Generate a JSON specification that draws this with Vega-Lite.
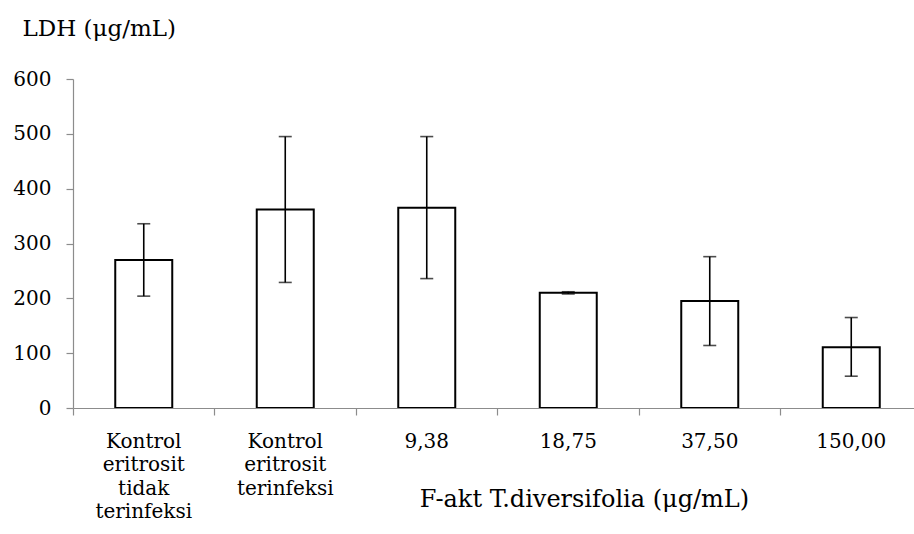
{
  "$schema": "https://vega.github.io/schema/vega-lite/v6.json",
  "autosize": {"type": "none"},
  "padding": {"left": 73, "top": 79, "right": 0, "bottom": 126},
  "width": 849,
  "height": 329,
  "background": "white",
  "config": {
    "view": {"stroke": null},
    "font": "DejaVu Serif",
    "axis": {"labelFont": "DejaVu Serif", "titleFont": "DejaVu Serif", "labelColor": "black", "titleColor": "black", "titleFontWeight": "normal", "domainColor": "#8c8c8c", "tickColor": "#8c8c8c", "domainWidth": 1.2, "tickWidth": 1.2, "grid": false}
  },
  "data": {"values": [
    {"cat": "Kontrol|eritrosit|tidak|terinfeksi", "mean": 270, "low": 204, "high": 336},
    {"cat": "Kontrol|eritrosit|terinfeksi", "mean": 362, "low": 229, "high": 495},
    {"cat": "9,38", "mean": 365, "low": 236, "high": 495},
    {"cat": "18,75", "mean": 210, "low": 208, "high": 212},
    {"cat": "37,50", "mean": 195, "low": 114, "high": 276},
    {"cat": "150,00", "mean": 111, "low": 58, "high": 165}
  ]},
  "encoding": {
    "x": {
      "field": "cat", "type": "nominal", "sort": null,
      "scale": {"paddingInner": 0, "paddingOuter": 0},
      "axis": {
        "labelAngle": 0, "labelExpr": "split(datum.label, '|')", "labelLineHeight": 23.5,
        "labelFontSize": 20, "labelPadding": 16, "tickSize": 7, "bandPosition": 0, "zindex": 1,
        "title": "F-akt  T.diversifolia (μg/mL)", "titleFontSize": 24,
        "titleX": 511, "titleY": 98, "titleBaseline": "alphabetic", "titleAlign": "center"
      }
    }
  },
  "layer": [
    {
      "mark": {"type": "bar", "width": 57, "fill": "white", "stroke": "black", "strokeWidth": 2},
      "encoding": {
        "y": {
          "field": "mean", "type": "quantitative", "title": "LDH (μg/mL)",
          "scale": {"domain": [0, 600], "nice": false},
          "axis": {
            "values": [0, 100, 200, 300, 400, 500, 600], "labelFontSize": 20, "tickSize": 7, "labelPadding": 15, "zindex": 1,
            "titleFontSize": 23, "titleAngle": 0, "titleAlign": "left", "titleBaseline": "alphabetic",
            "titleX": -51, "titleY": -44
          }
        }
      }
    },
    {
      "mark": {"type": "errorbar", "ticks": {"color": "black", "size": 13, "thickness": 1.6}, "rule": {"color": "black", "strokeWidth": 1.6}},
      "encoding": {
        "y": {"field": "low", "type": "quantitative", "title": "LDH (μg/mL)"},
        "y2": {"field": "high"}
      }
    }
  ]
}
